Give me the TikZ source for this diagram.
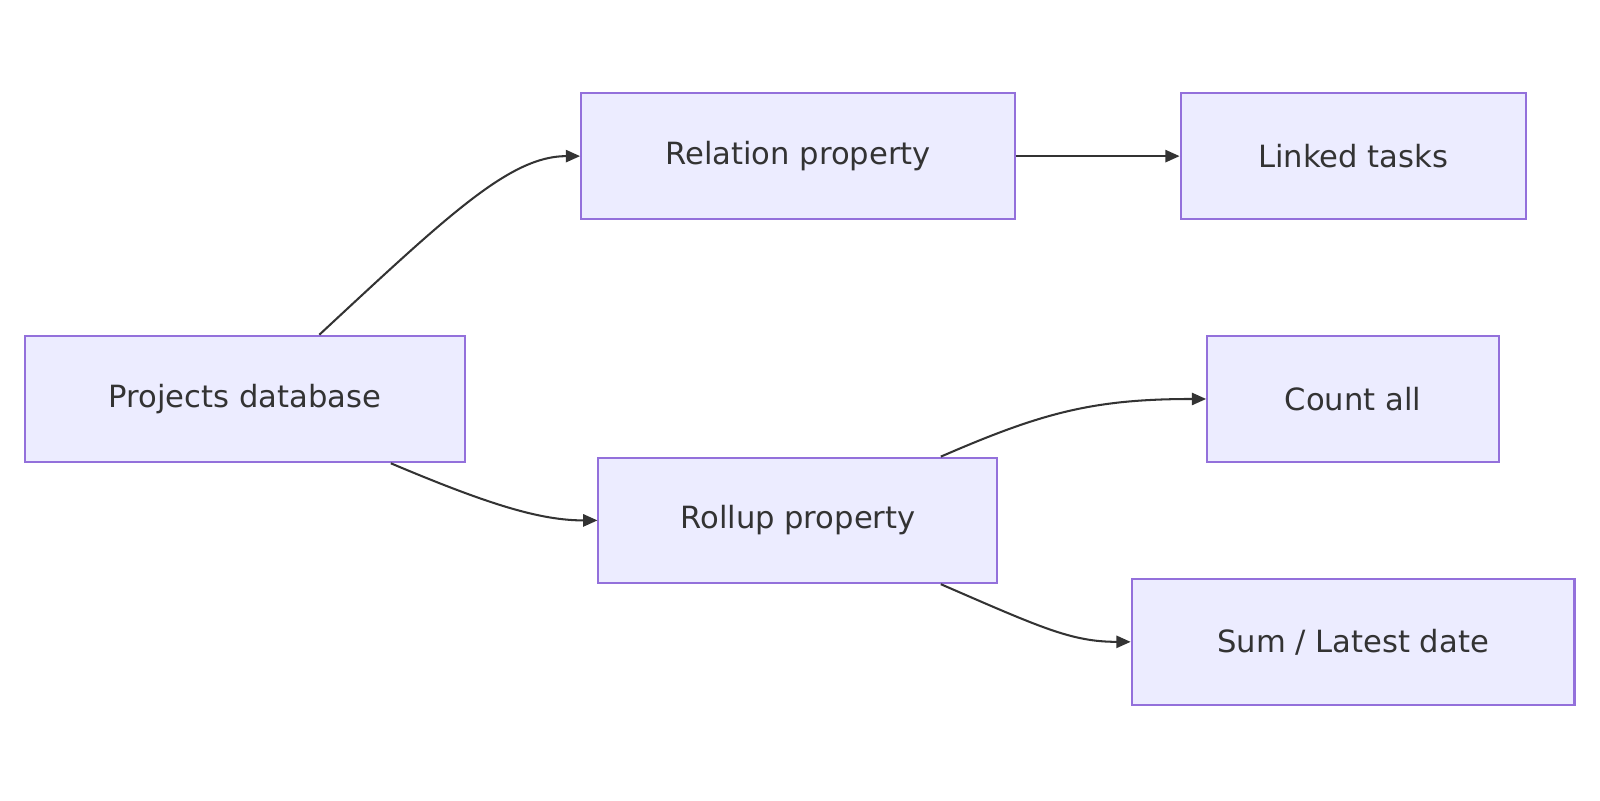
\documentclass[tikz,border=0pt]{standalone}
\usepackage{fontspec}
\setmainfont{DejaVu Sans}
\usetikzlibrary{arrows.meta}
\definecolor{nfill}{HTML}{ECECFF}
\definecolor{nline}{HTML}{9370DB}
\definecolor{eline}{HTML}{333333}
\begin{document}
\begin{tikzpicture}[x=1pt,y=-1pt,
  box/.style={draw=nline,fill=nfill,line width=2pt,inner sep=0pt,font=\fontsize{30}{35}\selectfont,text=eline},
  edge/.style={draw=eline,line width=2pt,-{Triangle[length=14pt,width=12pt]}}]
\useasboundingbox (0,0) rectangle (1568,784);
\node[box,minimum width=431,minimum height=124] (p) at (240,391) {Projects database};
\node[box,minimum width=425,minimum height=124] (r) at (782,153) {Relation property};
\node[box,minimum width=338,minimum height=124] (l) at (1326,153) {Linked tasks};
\node[box,minimum width=286,minimum height=124] (c) at (1326,391) {Count all};
\node[box,minimum width=391,minimum height=123] (u) at (782,510) {Rollup property};
\node[box,minimum width=434,minimum height=123] (s) at (1326,629) {Sum / Latest date};
\draw[edge] ([xshift=73pt]p.north) .. controls (440,210) and (500,153) .. (r.west);
\draw[edge] (r.east) -- (l.west);
\draw[edge] ([xshift=143pt]p.south) .. controls (480,495) and (530,510) .. (u.west);
\draw[edge] ([xshift=140pt]u.north) .. controls (1020,405) and (1070,391) .. (c.west);
\draw[edge] ([xshift=140pt]u.south) .. controls (1020,615) and (1050,629) .. (s.west);
\end{tikzpicture}
\end{document}
